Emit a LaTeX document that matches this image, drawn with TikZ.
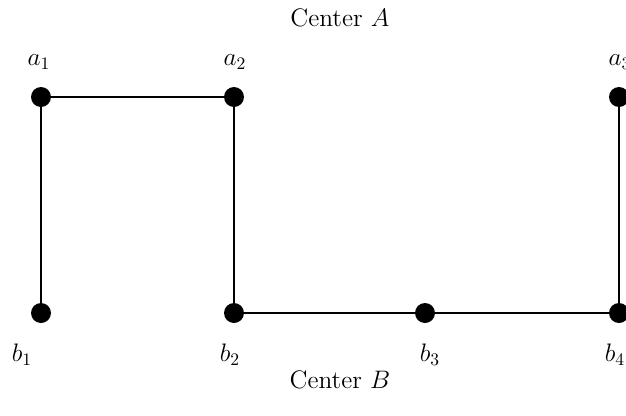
\documentclass[tikz,border=0pt]{standalone}
\usepackage{amsmath,amssymb}
\usepackage{tikz}
\usetikzlibrary{positioning}

\begin{document}
\begin{tikzpicture}[scale=1, every node/.style={font=\Large}]
  \useasboundingbox (0,0) rectangle (12.52,8.3);
  \tikzset{vertex/.style={circle,fill=black,inner sep=0pt,minimum size=0.4cm}}

  \node[vertex] (a1) at (0.82,6.36) {};
  \node[vertex] (a2) at (4.68,6.36) {};
  \node[vertex] (a3) at (12.38,6.36) {};
  \node[vertex] (b1) at (0.82,2.04) {};
  \node[vertex] (b2) at (4.68,2.04) {};
  \node[vertex] (b3) at (8.50,2.04) {};
  \node[vertex] (b4) at (12.38,2.04) {};

  \draw[line width=0.8pt] (a1)--(a2) (a1)--(b1) (a2)--(b2)--(b3)--(b4)--(a3);

  \node (la1) at (0.78,7.06) {$a_1$};
  \node (la2) at (4.70,7.06) {$a_2$};
  \node (la3) at (12.40,7.06) {$a_3$};
  \node (lb1) at (0.44,1.2) {$b_1$};
  \node (lb2) at (4.60,1.2) {$b_2$};
  \node (lb3) at (8.60,1.2) {$b_3$};
  \node (lb4) at (12.30,1.2) {$b_4$};
  \node (ca) at (6.8,7.94) {Center $A$};
  \node (cb) at (6.8,0.7) {Center $B$};
\end{tikzpicture}
\end{document}
